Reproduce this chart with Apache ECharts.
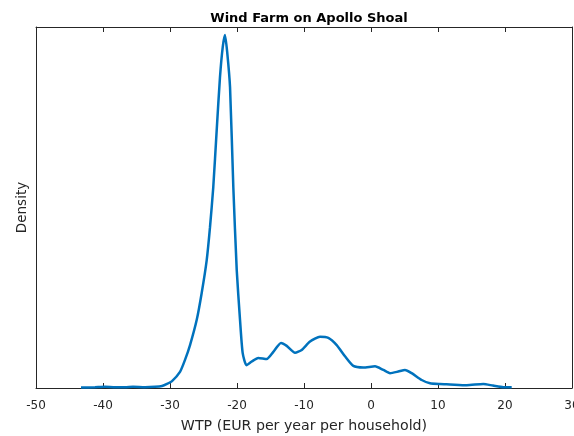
<!DOCTYPE html>
<html>
<head>
<meta charset="utf-8">
<script src="https://cdn.jsdelivr.net/npm/echarts@6/dist/echarts.min.js"></script>
<style>html,body{margin:0;padding:0;background:#fff;overflow:hidden}#c{width:574px;height:436px}</style>
</head>
<body>
<div id="c"></div>
<script>
const wtp = [-43.28,-41.19,-39.70,-38.21,-36.72,-35.52,-33.73,-32.24,-31.19,-30.45,-29.70,-28.51,-27.76,-27.01,-26.01,-25.27,-24.52,-24.03,-23.54,-23.03,-22.54,-22.13,-21.79,-21.45,-21.04,-20.55,-20.04,-19.55,-19.15,-18.58,-17.81,-16.82,-15.57,-14.58,-13.43,-12.58,-11.34,-10.34,-9.10,-7.61,-6.37,-5.12,-3.88,-2.64,-1.15,0.60,1.84,2.84,4.07,5.07,6.07,7.57,8.81,10.30,11.79,14.28,16.76,18.21,19.75,21.00];
const density = [0.0001,0.0002,0.0003,0.0002,0.0002,0.0003,0.0002,0.0003,0.0005,0.0010,0.0017,0.0040,0.0070,0.0107,0.0170,0.0237,0.0319,0.0401,0.0501,0.0643,0.0775,0.0850,0.0880,0.0835,0.0750,0.0501,0.0294,0.0170,0.0087,0.0057,0.0066,0.0075,0.0072,0.0090,0.0112,0.0105,0.0088,0.0095,0.0116,0.0128,0.0125,0.0107,0.0079,0.0055,0.0051,0.0054,0.0045,0.0037,0.0041,0.0045,0.0037,0.0020,0.0012,0.0010,0.0009,0.0007,0.0010,0.0006,0.0002,0.0002];
const xTicks = [-50,-40,-30,-20,-10,0,10,20,30];
const titleText = 'Wind Farm on Apollo Shoal';
const xName = 'WTP (EUR per year per household)';
const yName = 'Density';

const FONT = 'DejaVu Sans, Liberation Sans, Arial, sans-serif';
const INK = '#262626';
const chart = echarts.init(document.getElementById('c'), null, {renderer:'canvas'});
const axisCommon = {
  type:'value', min:xTicks[0], max:xTicks[xTicks.length-1], interval:10,
  axisLine:{show:true, onZero:false, lineStyle:{color:INK, width:1}},
  axisTick:{show:true, inside:true, length:5, lineStyle:{color:INK, width:1}},
  splitLine:{show:false}
};
chart.setOption({
  animation:false,
  backgroundColor:'#fff',
  title:{text:titleText, left:304, textAlign:'center', top:7,
    textStyle:{fontFamily:FONT, fontSize:13, fontWeight:'bold', color:'#000'}},
  grid:{left:36, right:2, top:27, bottom:48, containLabel:false, outerBoundsMode:'none'},
  xAxis:[
    Object.assign({}, axisCommon, {position:'bottom',
      axisLabel:{show:true, margin:12, fontFamily:FONT, fontSize:12, color:INK, showMaxLabel:true, showMinLabel:true},
      name:xName, nameLocation:'middle', nameGap:31,
      nameTextStyle:{fontFamily:FONT, fontSize:14.2, color:INK}}),
    Object.assign({}, axisCommon, {position:'top', axisLabel:{show:false}})
  ],
  yAxis:[
    {type:'value', min:0, max:0.09, position:'left',
     axisLine:{show:true, onZero:false, lineStyle:{color:INK, width:1}},
     axisTick:{show:false}, axisLabel:{show:false}, splitLine:{show:false},
     name:yName, nameLocation:'middle', nameGap:7, nameRotate:90,
     nameTextStyle:{fontFamily:FONT, fontSize:13.5, color:INK}},
    {type:'value', min:0, max:0.09, position:'right',
     axisLine:{show:true, onZero:false, lineStyle:{color:INK, width:1}},
     axisTick:{show:false}, axisLabel:{show:false}, splitLine:{show:false}}
  ],
  series:[{
    type:'line', xAxisIndex:0, yAxisIndex:0,
    data: wtp.map((x,i)=>[x, density[i]]),
    showSymbol:false, smooth:0.2,
    lineStyle:{color:'#0072BD', width:2.5},
    clip:false
  }]
});
</script>
</body>
</html>
